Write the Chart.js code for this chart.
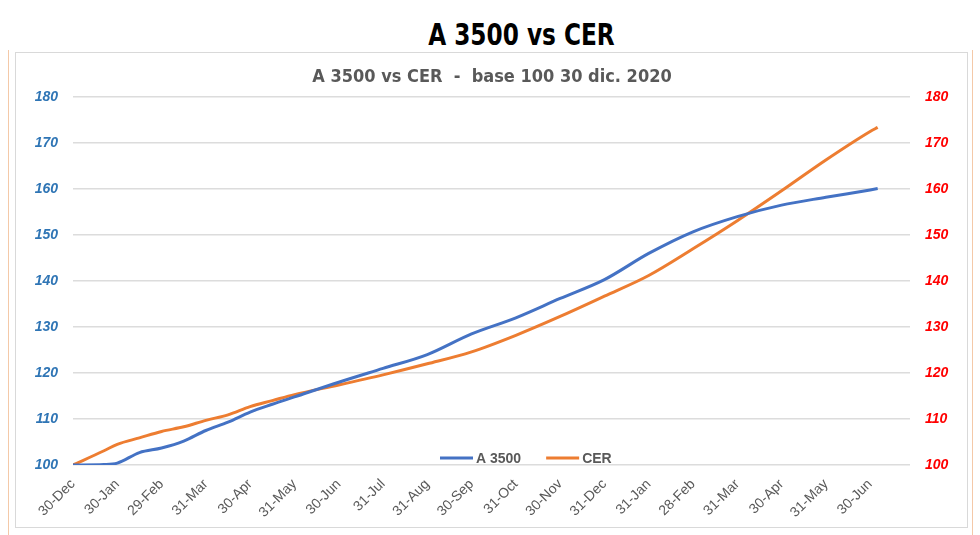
<!DOCTYPE html>
<html>
<head>
<meta charset="utf-8">
<script src="https://cdn.jsdelivr.net/npm/chart.js@4.4.1/dist/chart.umd.min.js"></script>
<style>
  body { margin: 0; background: #fff; }
  #page { position: relative; width: 980px; height: 535px; overflow: hidden; }
  #mainTitle {
    position: absolute; left: 0; top: 17px; width: 980px; box-sizing: border-box;
    padding-left: 62px; text-align: center;
    font: bold 30px "Liberation Sans Narrow", "DejaVu Sans Condensed", Arial, sans-serif;
    color: #000;
  }
  #mainTitle span { display: inline-block; transform: scaleX(0.86); }
  .orange { position: absolute; top: 50px; bottom: 0; width: 1px; background: #f4c9a8; }
  #box { position: absolute; left: 15px; top: 52px; width: 953px; height: 476px;
         border: 1px solid #d9d9d9; box-sizing: border-box; }
  #wrap { position: absolute; left: 16px; top: 53px; width: 952px; height: 475px; }
</style>
</head>
<body>
<div id="page">
  <div id="mainTitle"><span>A 3500 vs CER</span></div>
  <div class="orange" style="left:8px"></div>
  <div class="orange" style="left:972px"></div>
  <div id="box"></div>
  <div id="wrap"><canvas id="chart"></canvas></div>
</div>
<script>
// x position in months after 30-Dec
const monthPos = [0, 0.7, 1, 1.5, 2, 2.5, 3, 3.5, 4, 4.5, 5, 6, 7, 8, 9, 10, 11, 12, 13, 14, 15, 16, 17, 18, 18.17];
const a3500 = [100, 100.1, 100.4, 102.7, 103.7, 105.2, 107.5, 109.3, 111.5, 113.2, 114.8, 118.0, 121.0, 124.0, 128.5, 132.0, 136.2, 140.3, 146.0, 150.7, 154.0, 156.5, 158.2, 159.8, 160.1];
const cer = [100, 103.1, 104.5, 105.9, 107.3, 108.3, 109.7, 110.9, 112.7, 114.0, 115.3, 117.4, 119.6, 122.0, 124.6, 128.2, 132.3, 136.7, 141.2, 147.0, 153.1, 159.6, 166.3, 172.5, 173.4];
const tickLabels = ["30-Dec", "30-Jan", "29-Feb", "31-Mar", "30-Apr", "31-May", "30-Jun", "31-Jul", "31-Aug", "30-Sep",
  "31-Oct", "30-Nov", "31-Dec", "31-Jan", "28-Feb", "31-Mar", "30-Apr", "31-May", "30-Jun"];
const yTicks = [100, 110, 120, 130, 140, 150, 160, 170, 180];

const BLUE = "#4472c4";
const ORANGE = "#ed7d31";
const GREY = "#595959";

// legend drawn inside the plot, near the bottom
const innerLegend = {
  id: "innerLegend",
  afterDraw(chart) {
    const ctx = chart.ctx;
    const area = chart.chartArea;
    const y = area.bottom - 7;
    let x = 424;
    ctx.save();
    ctx.font = "bold 14px 'Liberation Sans', Arial, sans-serif";
    ctx.textBaseline = "middle";
    chart.data.datasets.forEach((ds) => {
      ctx.strokeStyle = ds.borderColor;
      ctx.lineWidth = 3;
      ctx.beginPath();
      ctx.moveTo(x, y);
      ctx.lineTo(x + 33, y);
      ctx.stroke();
      x += 36;
      ctx.fillStyle = GREY;
      ctx.fillText(ds.label, x, y + 1);
      x += ctx.measureText(ds.label).width + 25;
    });
    ctx.restore();
  }
};

const toPoints = (vals) => vals.map((v, i) => ({ x: monthPos[i], y: v }));

new Chart(document.getElementById("chart"), {
  type: "line",
  data: {
    datasets: [
      { label: "A 3500", data: toPoints(a3500), borderColor: BLUE, yAxisID: "y" },
      { label: "CER", data: toPoints(cer), borderColor: ORANGE, yAxisID: "y1" }
    ]
  },
  options: {
    responsive: true,
    maintainAspectRatio: false,
    animation: false,
    layout: { padding: 0 },
    elements: {
      point: { radius: 0 },
      line: { borderWidth: 3, cubicInterpolationMode: "monotone" }
    },
    plugins: {
      legend: { display: false },
      tooltip: { enabled: false },
      title: {
        display: true,
        text: "A 3500 vs CER  -  base 100 30 dic. 2020",
        color: GREY,
        font: { family: "'Liberation Sans Narrow', 'DejaVu Sans Condensed', Arial, sans-serif", size: 18, weight: "bold" },
        padding: { top: 14, bottom: 8.4 }
      }
    },
    scales: {
      x: {
        type: "linear",
        min: 0,
        max: 18.9,
        afterBuildTicks: (scale) => { scale.ticks = tickLabels.map((_, i) => ({ value: i })); },
        afterFit: (scale) => { scale.height = 63; },
        grid: { display: false },
        border: { display: false },
        ticks: {
          autoSkip: false,
          minRotation: 45,
          maxRotation: 45,
          padding: 3,
          color: GREY,
          font: { family: "'Liberation Sans', Arial, sans-serif", size: 14 },
          callback: (v) => tickLabels[v]
        }
      },
      y: {
        position: "left",
        min: 100,
        max: 180,
        afterBuildTicks: (scale) => { scale.ticks = yTicks.map((v) => ({ value: v })); },
        afterFit: (scale) => { scale.width = 57; },
        grid: { color: "#dcdcdc", lineWidth: 1.5, drawTicks: false },
        border: { display: false },
        ticks: {
          padding: 15,
          color: "#2f75b5",
          font: { family: "'Liberation Sans', Arial, sans-serif", size: 14, weight: "bold", style: "italic" }
        }
      },
      y1: {
        position: "right",
        min: 100,
        max: 180,
        afterBuildTicks: (scale) => { scale.ticks = yTicks.map((v) => ({ value: v })); },
        afterFit: (scale) => { scale.width = 58; },
        grid: { display: false, drawTicks: false },
        border: { display: false },
        ticks: {
          padding: 15,
          color: "#ff0000",
          font: { family: "'Liberation Sans', Arial, sans-serif", size: 14, weight: "bold", style: "italic" }
        }
      }
    }
  },
  plugins: [innerLegend]
});
</script>
</body>
</html>
